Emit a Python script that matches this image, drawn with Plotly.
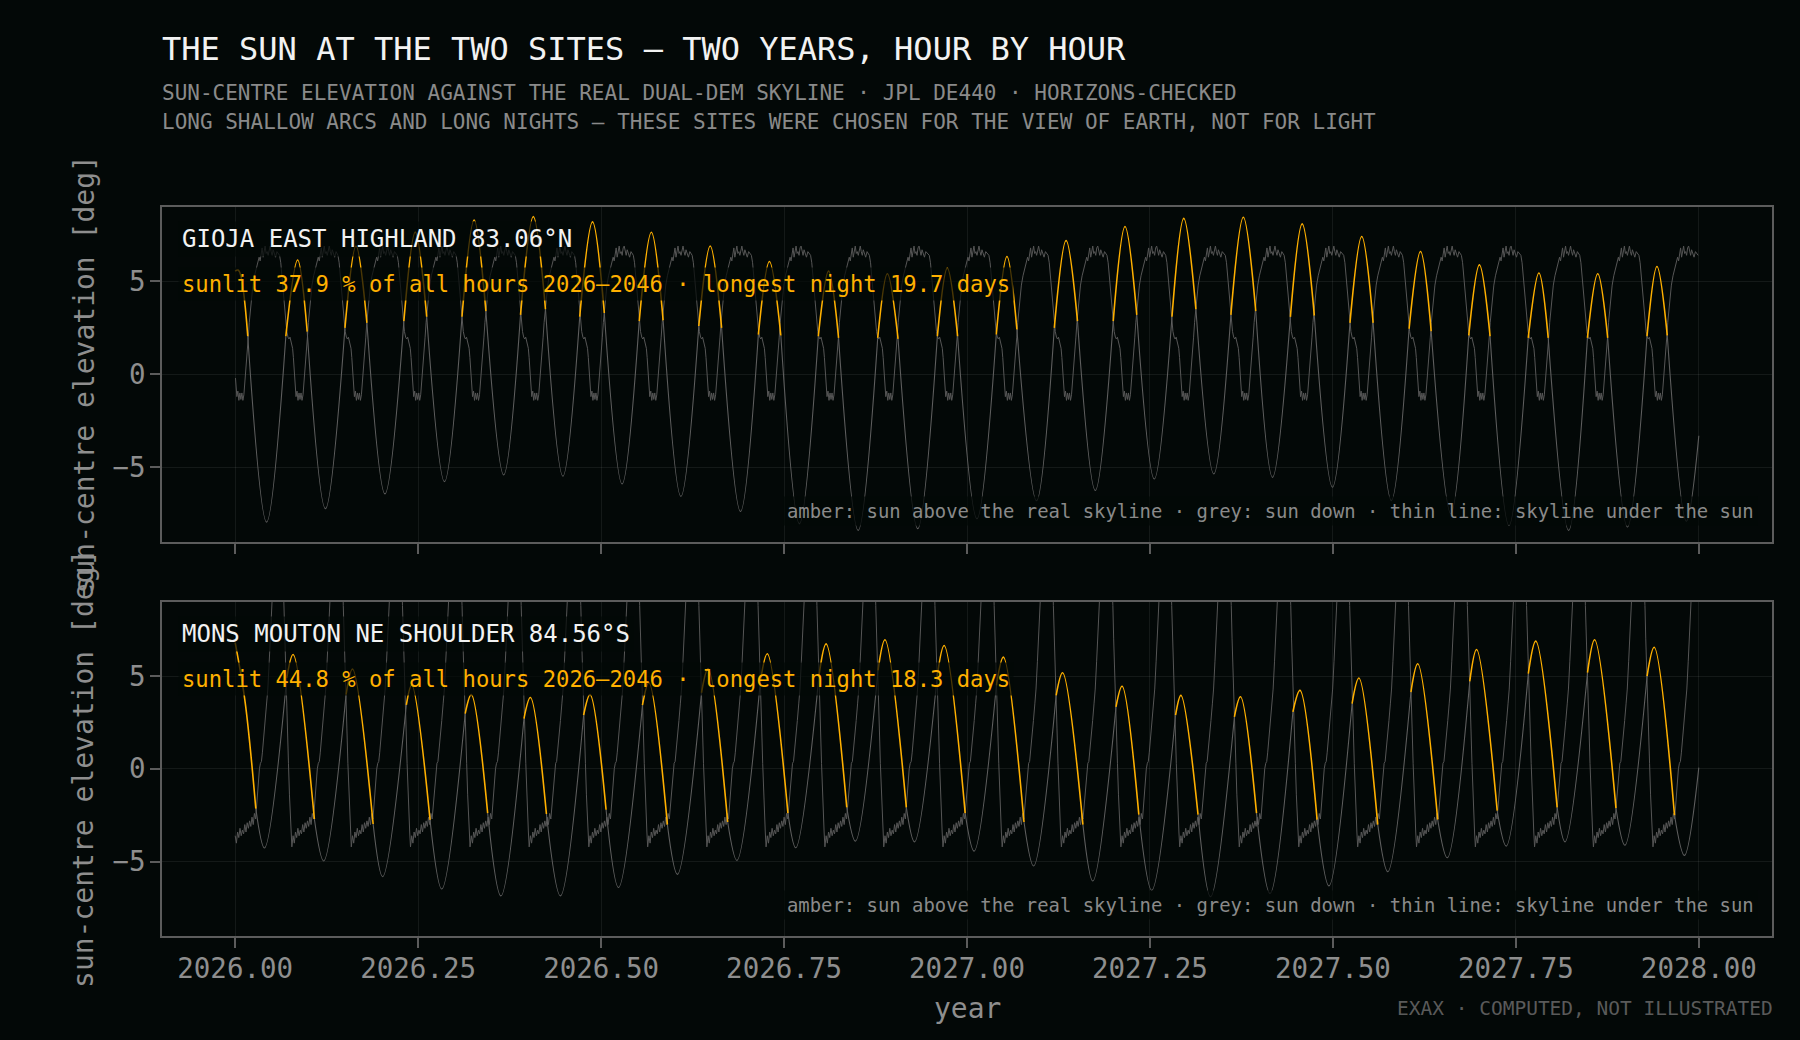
import plotly.graph_objects as go

# ------------------------------------------------------------------
# values
# ------------------------------------------------------------------
YEAR_TICKS = [2026.00, 2026.25, 2026.50, 2026.75, 2027.00, 2027.25, 2027.50, 2027.75, 2028.00]
YEAR_TICK_TEXT = ["2026.00", "2026.25", "2026.50", "2026.75", "2027.00",
                  "2027.25", "2027.50", "2027.75", "2028.00"]
ELEV_TICKS = [-5, 0, 5]
ELEV_TICK_TEXT = ["\u22125", "0", "5"]

# ---- Gioja East Highland: sun-centre elevation (deg), key points per lunar day
gioja_start_t, gioja_start_el = 2026.0, 5.55
gioja_end_t, gioja_end_el = 2028.0, -3.3
gioja_peak_t = [2026.0045, 2026.0853, 2026.1651, 2026.2461, 2026.3265, 2026.4074, 2026.4883,
                2026.5687, 2026.6491, 2026.7300, 2026.8109, 2026.8912, 2026.9731, 2027.0546,
                2027.1354, 2027.2159, 2027.2962, 2027.3776, 2027.4580, 2027.5394, 2027.6197,
                2027.7002, 2027.7815, 2027.8619, 2027.9428]
gioja_peak_el = [5.60, 6.15, 6.90, 7.65, 8.30, 8.48, 8.20, 7.64, 6.90, 6.07, 5.55, 5.41, 5.71,
                 6.34, 7.20, 7.95, 8.39, 8.45, 8.09, 7.41, 6.61, 5.89, 5.45, 5.41, 5.80]
# sunrise over the skyline (for lunar days 1..24)
gioja_rise_t = [2026.0692, 2026.1500, 2026.2305, 2026.3099, 2026.3899, 2026.4708, 2026.5521,
                2026.6335, 2026.7149, 2026.7968, 2026.8780, 2026.9595, 2027.0400, 2027.1193,
                2027.1998, 2027.2801, 2027.3606, 2027.4419, 2027.5233, 2027.6041, 2027.6856,
                2027.7669, 2027.8478, 2027.9292]
gioja_rise_el = [2.05, 2.50, 2.86, 3.10, 3.20, 3.10, 2.86, 2.60, 2.14, 2.05, 1.96, 2.05, 2.14,
                 2.50, 2.86, 3.10, 3.20, 3.09, 2.77, 2.45, 2.09, 1.96, 1.96, 2.05]
# sunset behind the skyline (lunar days 0..24)
gioja_set_t = [2026.0172, 2026.0984, 2026.1800, 2026.2617, 2026.3426, 2026.4240, 2026.5044,
               2026.5848, 2026.6647, 2026.7456, 2026.8245, 2026.9058, 2026.9872, 2027.0682,
               2027.1510, 2027.2320, 2027.3128, 2027.3946, 2027.4746, 2027.5550, 2027.6343,
               2027.7148, 2027.7942, 2027.8755, 2027.9569]
gioja_set_el = [2.05, 2.30, 2.77, 3.10, 3.40, 3.50, 3.30, 2.90, 2.50, 2.09, 1.96, 1.91, 2.05,
                2.41, 2.86, 3.20, 3.50, 3.40, 3.16, 2.77, 2.32, 2.05, 1.96, 1.96, 2.09]
gioja_trough_t = [2026.0429, 2026.1233, 2026.2047, 2026.2860, 2026.3669, 2026.4478, 2026.5287,
                  2026.6091, 2026.6905, 2026.7710, 2026.8513, 2026.9327, 2027.0136, 2027.0950,
                  2027.1753, 2027.2559, 2027.3372, 2027.4175, 2027.4994, 2027.5799, 2027.6612,
                  2027.7406, 2027.8221, 2027.9025, 2027.9830]
gioja_trough_el = [-7.95, -7.23, -6.43, -5.77, -5.41, -5.48, -5.90, -6.57, -7.38, -8.04, -8.39,
                   -8.30, -7.77, -6.80, -6.25, -5.63, -5.36, -5.54, -6.07, -6.79, -7.50, -8.13,
                   -8.39, -8.21, -7.90]
# skyline under the sun, one lunar day, in days from the sun's upper transit
gioja_sky_day = [-9.6, -9.0, -8.4, -7.8, -7.2, -6.6, -6.0, -5.4, -4.8, -4.3, -3.8, -3.3, -2.9,
                 -2.5, -2.1, -1.8, -1.5, -1.2, -0.8, -0.3, 0.2, 0.7, 1.2, 1.7, 2.2, 2.7, 3.1,
                 3.5, 3.9, 4.4, 4.9, 5.4, 5.9, 6.5, 7.2, 8.0, 8.7, 9.5, 10.3, 10.8, 11.3, 11.8,
                 12.3, 12.8, 13.3, 13.8, 14.3, 14.8, 15.3, 15.8, 16.3, 16.8, 17.3, 17.8, 18.5, 19.2]
gioja_sky_el = [6.5, 6.4, 6.0, 5.2, 4.3, 3.5, 2.9, 2.3, 2.0, 1.9, 2.0, 1.8, 1.6,
                1.4, 0.9, 0.4, -0.2, -0.7, -1.2, -0.9, -1.4, -1.0, -1.35, -1.0, -1.4, -1.1, -0.6,
                -0.1, 0.5, 1.2, 2.0, 2.8, 3.4, 4.0, 4.8, 5.3, 5.6, 6.0, 6.3, 6.1, 6.6, 6.8,
                6.3, 6.7, 6.9, 6.5, 6.6, 6.4, 6.8, 6.9, 6.6, 6.4, 6.7, 6.5, 6.3, 6.6]
gioja_sky_transit_t = gioja_peak_t + [2028.0237]

# ---- Mons Mouton NE shoulder
mouton_start_t, mouton_start_el = 2026.0, 6.80
mouton_first_mid_t, mouton_first_mid_el = 2026.0136, 3.6
mouton_end_t, mouton_end_el = 2028.0, 0.07
mouton_peak_t = [2026.0000, 2026.0791, 2026.1603, 2026.2412, 2026.3226, 2026.4034, 2026.4849,
                 2026.5653, 2026.6462, 2026.7271, 2026.8075, 2026.8879, 2026.9688, 2027.0497,
                 2027.1306, 2027.2119, 2027.2923, 2027.3737, 2027.4550, 2027.5355, 2027.6159,
                 2027.6963, 2027.7772, 2027.8576, 2027.9390]
mouton_peak_el = [6.80, 6.16, 5.38, 4.52, 4.00, 3.84, 4.00, 4.64, 5.40, 6.20, 6.73, 6.95, 6.64,
                  6.02, 5.18, 4.45, 3.96, 3.88, 4.23, 4.89, 5.66, 6.43, 6.88, 6.95, 6.55]
mouton_rise_t = [2026.0705, 2026.1515, 2026.2339, 2026.3143, 2026.3946, 2026.4761, 2026.5565,
                 2026.6372, 2026.7176, 2026.7980, 2026.8784, 2026.9593, 2027.0402, 2027.1218,
                 2027.2036, 2027.2850, 2027.3654, 2027.4453, 2027.5262, 2027.6066, 2027.6870,
                 2027.7670, 2027.8479, 2027.9293]
mouton_rise_el = [4.90, 4.00, 3.45, 2.98, 2.71, 2.89, 3.43, 4.10, 4.70, 5.10, 5.30, 5.00, 4.50,
                  3.96, 3.34, 2.89, 2.80, 3.07, 3.52, 4.14, 4.71, 5.13, 5.18, 5.00]
mouton_set_t = [2026.0282, 2026.1082, 2026.1885, 2026.2663, 2026.3450, 2026.4253, 2026.5068,
                2026.5906, 2026.6730, 2026.7553, 2026.8357, 2026.9171, 2026.9975, 2027.0779,
                2027.1584, 2027.2348, 2027.3157, 2027.3956, 2027.4784, 2027.5613, 2027.6432,
                2027.7245, 2027.8064, 2027.8868, 2027.9668]
mouton_set_el = [-2.14, -2.70, -2.97, -2.75, -2.38, -2.43, -2.20, -3.00, -2.86, -2.38, -2.07,
                 -2.07, -2.38, -2.86, -3.00, -2.46, -2.46, -2.38, -2.73, -3.00, -2.73, -2.25,
                 -2.07, -2.11, -2.50]
mouton_trough_t = [2026.0400, 2026.1209, 2026.2015, 2026.2823, 2026.3631, 2026.4444, 2026.5238,
                   2026.6043, 2026.6856, 2026.7660, 2026.8475, 2026.9283, 2027.0097, 2027.0910,
                   2027.1719, 2027.2524, 2027.3328, 2027.4141, 2027.4946, 2027.5750, 2027.6563,
                   2027.7368, 2027.8172, 2027.8990, 2027.9803]
mouton_trough_el = [-4.26, -4.96, -5.81, -6.47, -6.84, -6.84, -6.39, -5.68, -4.93, -4.25, -3.89,
                    -3.93, -4.43, -5.23, -6.04, -6.54, -6.89, -6.71, -6.30, -5.54, -4.79, -4.16,
                    -3.93, -4.11, -4.66]
mouton_sky_day = [-5.0, -4.6, -4.2, -3.8, -3.3, -2.8, -2.3, -1.8, -1.3, -1.0, -0.6, 0.0, 0.6,
                  1.2, 1.8, 2.4, 3.0, 3.6, 4.2, 4.8, 5.4, 6.0, 6.6, 7.2, 7.8, 8.4, 9.0, 9.6,
                  10.2, 10.7, 11.2, 11.6, 12.1, 12.6, 13.1, 13.6, 14.3, 15.0, 15.7, 16.3, 17.0,
                  17.6, 18.3, 19.5, 21.0, 22.5, 23.6, 24.2]
mouton_sky_el = [10.5, 8.8, 7.0, 5.8, 4.0, 2.2, 0.3, -1.4, -2.9, -3.4, -4.2, -3.6, -4.0,
                 -3.4, -3.7, -3.2, -3.6, -3.3, -3.5, -3.0, -3.4, -2.9, -3.2, -2.8, -3.1, -2.6,
                 -3.0, -2.4, -2.7, -2.0, -1.2, -0.6, 0.0, 0.3, 0.4, 0.9, 1.8, 2.6, 3.5, 4.3,
                 5.8, 7.4, 9.2, 12.5, 15.0, 15.5, 13.0, 11.2]
mouton_sky_transit_t = mouton_peak_t + [2028.0194]

# ------------------------------------------------------------------
# styling
# ------------------------------------------------------------------
BG = "#030807"
AMBER = "#ffb000"
SUN_GREY = "#5e5e5e"
SKY_GREY = "#565656"
FRAME = "#5c5c5c"
TICK_GREY = "#8e8e8e"
FONT = "DejaVu Sans Mono"
DOMAIN_TOP = [0.5409, 1.0]
DOMAIN_BOT = [0.0, 0.4585]


def skyline_series(transits, days, els):
    xs, ys = [], []
    for tr in transits:
        for d, e in zip(days, els):
            t = tr + d / 365.25
            if 2026.0 <= t <= 2028.0:
                xs.append(t)
                ys.append(e)
    return xs, ys


def sun_segments(peaks_t, peaks_el, rise_t, rise_el, set_t, set_el,
                 trough_t, trough_el, end, first_arc):
    ax, ay, gx, gy = [], [], [], []
    for p in first_arc:                      # arc already up at the start
        ax.append(p[0]); ay.append(p[1])
    ax.append(None); ay.append(None)
    n = len(peaks_t)
    for k in range(n):
        if k >= 1:
            ax += [rise_t[k - 1], peaks_t[k], set_t[k], None]
            ay += [rise_el[k - 1], peaks_el[k], set_el[k], None]
        if k < n - 1:
            gx += [set_t[k], trough_t[k], rise_t[k], None]
            gy += [set_el[k], trough_el[k], rise_el[k], None]
        else:
            gx += [set_t[k], trough_t[k], end[0], None]
            gy += [set_el[k], trough_el[k], end[1], None]
    return ax, ay, gx, gy


fig = go.Figure()

panels = [
    dict(xa="x", ya="y",
         sky=skyline_series(gioja_sky_transit_t, gioja_sky_day, gioja_sky_el),
         sun=sun_segments(gioja_peak_t, gioja_peak_el,
                          gioja_rise_t, gioja_rise_el, gioja_set_t, gioja_set_el,
                          gioja_trough_t, gioja_trough_el, (gioja_end_t, gioja_end_el),
                          [(gioja_start_t, gioja_start_el), (gioja_peak_t[0], gioja_peak_el[0]),
                           (gioja_set_t[0], gioja_set_el[0])])),
    dict(xa="x2", ya="y2",
         sky=skyline_series(mouton_sky_transit_t, mouton_sky_day, mouton_sky_el),
         sun=sun_segments(mouton_peak_t, mouton_peak_el,
                          mouton_rise_t, mouton_rise_el, mouton_set_t, mouton_set_el,
                          mouton_trough_t, mouton_trough_el, (mouton_end_t, mouton_end_el),
                          [(mouton_start_t, mouton_start_el),
                           (mouton_first_mid_t, mouton_first_mid_el),
                           (mouton_set_t[0], mouton_set_el[0])])),
]

for p in panels:
    sx, sy = p["sky"]
    ax, ay, gx, gy = p["sun"]
    fig.add_trace(go.Scatter(x=sx, y=sy, mode="lines", xaxis=p["xa"], yaxis=p["ya"],
                             line=dict(color=SKY_GREY, width=1.0), hoverinfo="skip",
                             showlegend=False))
    fig.add_trace(go.Scatter(x=gx, y=gy, mode="lines", xaxis=p["xa"], yaxis=p["ya"],
                             line=dict(color=SUN_GREY, width=1.1, shape="spline"),
                             connectgaps=False, hoverinfo="skip", showlegend=False))
    fig.add_trace(go.Scatter(x=ax, y=ay, mode="lines", xaxis=p["xa"], yaxis=p["ya"],
                             line=dict(color=AMBER, width=1.6, shape="spline"),
                             connectgaps=False, hoverinfo="skip", showlegend=False))

xaxis_common = dict(range=[2025.9, 2028.1], tickmode="array", tickvals=YEAR_TICKS,
                    ticktext=YEAR_TICK_TEXT, ticks="outside", ticklen=10, tickwidth=2,
                    tickcolor=FRAME, showline=True, linecolor=FRAME, linewidth=2, mirror=True,
                    showgrid=True, gridcolor="rgba(255,255,255,0.07)", gridwidth=1,
                    zeroline=False, ticklabelstandoff=-3,
                    tickfont=dict(family=FONT, size=27.5, color=TICK_GREY))
yaxis_common = dict(range=[-9, 9], tickmode="array", tickvals=ELEV_TICKS,
                    ticktext=ELEV_TICK_TEXT, ticks="outside", ticklen=10, tickwidth=2,
                    tickcolor=FRAME, showline=True, linecolor=FRAME, linewidth=2, mirror=True,
                    showgrid=True, gridcolor="rgba(255,255,255,0.07)", gridwidth=1,
                    zeroline=False, ticklabelstandoff=-1,
                    tickfont=dict(family=FONT, size=27.5, color=TICK_GREY))

fig.update_layout(
    width=1800, height=1040,
    paper_bgcolor=BG, plot_bgcolor=BG,
    margin=dict(l=162, r=28, t=207, b=104, autoexpand=False),
    showlegend=False,
    xaxis=dict(domain=[0, 1], anchor="y", showticklabels=False, **xaxis_common),
    yaxis=dict(domain=DOMAIN_TOP, anchor="x", **yaxis_common),
    xaxis2=dict(domain=[0, 1], anchor="y2", showticklabels=True, **xaxis_common),
    yaxis2=dict(domain=DOMAIN_BOT, anchor="x2", **yaxis_common),
)

ann = []
box_bg = "rgba(3,8,7,0.72)"
# headline block
ann.append(dict(text="THE SUN AT THE TWO SITES \u2014 TWO YEARS, HOUR BY HOUR",
                xref="paper", yref="paper", x=-0.0015, y=1.2173, xanchor="left", yanchor="middle",
                showarrow=False, font=dict(family=FONT, size=32, color="#f2f2f2")))
ann.append(dict(text="SUN-CENTRE ELEVATION AGAINST THE REAL DUAL-DEM SKYLINE \u00b7 JPL DE440 \u00b7 HORIZONS-CHECKED",
                xref="paper", yref="paper", x=-0.0015, y=1.1569, xanchor="left", yanchor="middle",
                showarrow=False, font=dict(family=FONT, size=21, color="#8a8a8a")))
ann.append(dict(text="LONG SHALLOW ARCS AND LONG NIGHTS \u2014 THESE SITES WERE CHOSEN FOR THE VIEW OF EARTH, NOT FOR LIGHT",
                xref="paper", yref="paper", x=-0.0015, y=1.1164, xanchor="left", yanchor="middle",
                showarrow=False, font=dict(family=FONT, size=21, color="#8a8a8a")))

panel_text = [
    ("x", "y", "GIOJA EAST HIGHLAND 83.06\u00b0N",
     "sunlit 37.9 % of all hours 2026\u20132046 \u00b7 longest night 19.7 days"),
    ("x2", "y2", "MONS MOUTON NE SHOULDER 84.56\u00b0S",
     "sunlit 44.8 % of all hours 2026\u20132046 \u00b7 longest night 18.3 days"),
]
for xa, ya, name, lit in panel_text:
    ann.append(dict(text=name, xref=xa + " domain", yref=ya + " domain", x=0.0099, y=0.905,
                    xanchor="left", yanchor="middle", showarrow=False, bgcolor=box_bg,
                    borderpad=3, font=dict(family=FONT, size=24, color="#f2f2f2")))
    ann.append(dict(text=lit, xref=xa + " domain", yref=ya + " domain", x=0.0099, y=0.770,
                    xanchor="left", yanchor="middle", showarrow=False, bgcolor=box_bg,
                    borderpad=3, font=dict(family=FONT, size=22.2, color=AMBER)))
    ann.append(dict(text="amber: sun above the real skyline \u00b7 grey: sun down \u00b7 thin line: skyline under the sun",
                    xref=xa + " domain", yref=ya + " domain", x=0.991, y=0.092,
                    xanchor="right", yanchor="middle", showarrow=False, bgcolor=box_bg,
                    borderpad=3, font=dict(family=FONT, size=18.9, color="#8a8a8a")))
    ann.append(dict(text="sun-centre elevation [deg]", xref="paper", yref=ya + " domain",
                    x=-0.0484, y=0.5, xanchor="center", yanchor="middle", textangle=-90,
                    showarrow=False, font=dict(family=FONT, size=28, color=TICK_GREY)))

ann.append(dict(text="year", xref="paper", yref="paper", x=0.5, y=-0.0993,
                xanchor="center", yanchor="middle", showarrow=False,
                font=dict(family=FONT, size=28, color=TICK_GREY)))
ann.append(dict(text="EXAX \u00b7 COMPUTED, NOT ILLUSTRATED", xref="paper", yref="paper",
                x=1.002, y=-0.0993, xanchor="right", yanchor="middle", showarrow=False,
                font=dict(family=FONT, size=19.5, color="#5a5a5a")))
fig.update_layout(annotations=ann)

fig.write_html("out.html")
